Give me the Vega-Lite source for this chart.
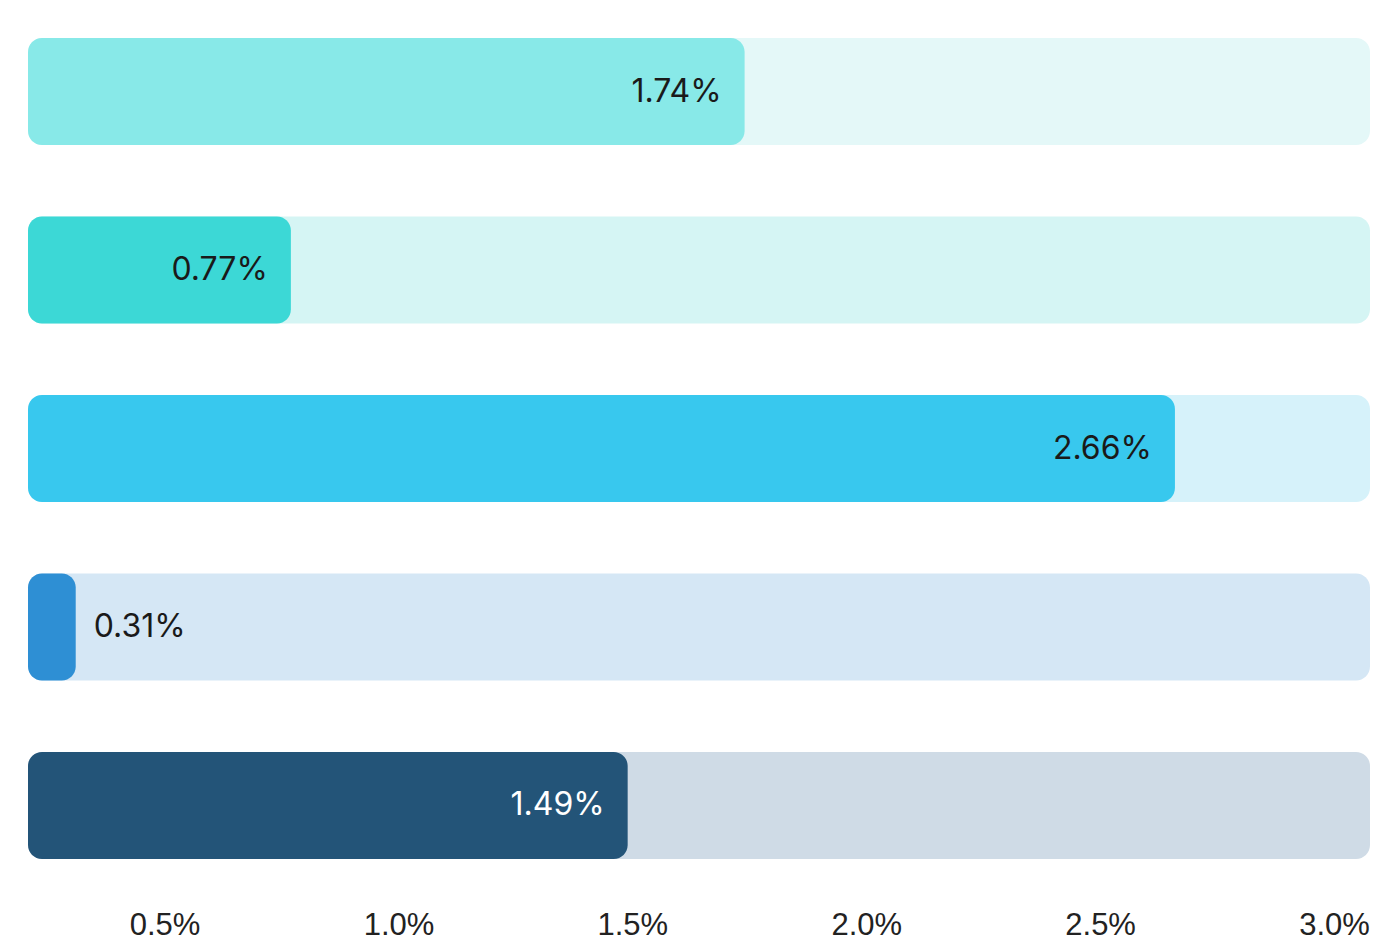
{
  "$schema": "https://vega.github.io/schema/vega-lite/v6.json",
  "width": 1342,
  "height": 821,
  "autosize": "none",
  "padding": {"left": 28, "top": 38, "right": 30, "bottom": 81},
  "background": "white",
  "config": {"view": {"stroke": null}},
  "data": {
    "values": [
      {"item": "1", "value": 0.0174},
      {"item": "2", "value": 0.0077},
      {"item": "3", "value": 0.0266},
      {"item": "4", "value": 0.0031},
      {"item": "5", "value": 0.0149}
    ]
  },
  "encoding": {
    "y": {"field": "item", "type": "nominal", "axis": null, "sort": null,
          "scale": {"paddingInner": 0.4, "paddingOuter": 0}}
  },
  "layer": [
    {
      "mark": {"type": "bar", "cornerRadius": 14},
      "encoding": {
        "x": {"datum": 0.03077, "type": "quantitative",
              "scale": {"domain": [0.00208, 0.03077], "zero": false, "nice": false},
              "axis": {"values": [0.005, 0.01, 0.015, 0.02, 0.025, 0.03], "format": ".1%",
                       "grid": false, "domain": false, "ticks": false, "labelFlush": false,
                       "labelFont": "Liberation Sans", "labelFontSize": 31, "labelColor": "#222222",
                       "labelBaseline": "alphabetic", "labelPadding": 75, "title": null}},
        "x2": {"datum": 0.00208},
        "color": {"field": "item", "type": "nominal", "legend": null,
                  "scale": {"domain": ["1", "2", "3", "4", "5"],
                            "range": ["#E4F8F8", "#D5F5F4", "#D6F2FA", "#D5E7F5", "#CFDBE6"]}}
      }
    },
    {
      "mark": {"type": "bar", "cornerRadius": 14},
      "encoding": {
        "x": {"field": "value", "type": "quantitative"},
        "x2": {"datum": 0.00208},
        "color": {"field": "item", "type": "nominal", "legend": null,
                  "scale": {"domain": ["1", "2", "3", "4", "5"],
                            "range": ["#88E9E8", "#3CD8D6", "#38C8EE", "#2E8FD4", "#235478"]}}
      }
    },
    {
      "transform": [{"filter": "datum.value >= 0.005"}],
      "mark": {"type": "text", "align": "right", "baseline": "middle", "dx": -23,
               "font": "Inter", "fontSize": 32},
      "encoding": {
        "x": {"field": "value", "type": "quantitative"},
        "text": {"field": "value", "type": "quantitative", "format": ".2%"},
        "color": {"condition": {"test": "datum.item === '5'", "value": "#FFFFFF"}, "value": "#1A1A1A"}
      }
    },
    {
      "transform": [{"filter": "datum.value < 0.005"}],
      "mark": {"type": "text", "align": "left", "baseline": "middle", "dx": 18,
               "font": "Inter", "fontSize": 32},
      "encoding": {
        "x": {"field": "value", "type": "quantitative"},
        "text": {"field": "value", "type": "quantitative", "format": ".2%"},
        "color": {"value": "#1A1A1A"}
      }
    }
  ],
  "resolve": {"scale": {"color": "independent"}}
}
